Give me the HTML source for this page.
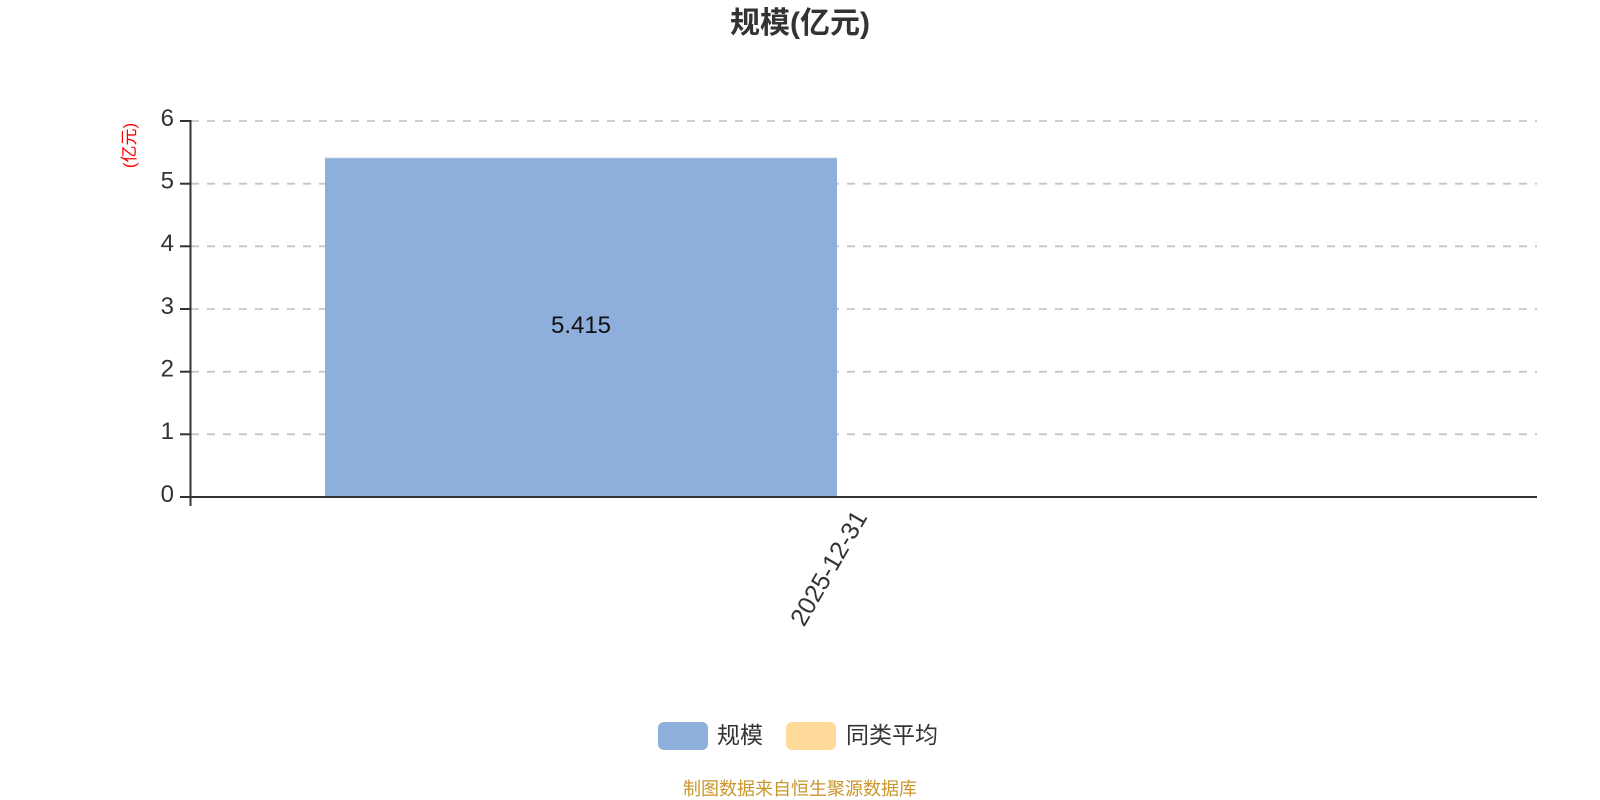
<!DOCTYPE html>
<html>
<head>
<meta charset="utf-8">
<style>
  html, body { margin: 0; padding: 0; background: #ffffff; }
  body { width: 1600px; height: 800px; overflow: hidden; }
  svg { display: block; }
  text { font-family: "Liberation Sans", "Noto Sans CJK SC", sans-serif; }
</style>
</head>
<body>
<svg width="1600" height="800" viewBox="0 0 1600 800" xmlns="http://www.w3.org/2000/svg">
  <!-- Title -->
  <text x="800" y="33" text-anchor="middle" font-size="30" font-weight="bold" fill="#333333">规模(亿元)</text>

  <!-- Y axis name -->
  <text x="0" y="0" transform="translate(135,145.5) rotate(-90)" text-anchor="middle" font-size="17" fill="#ff0000">(亿元)</text>

  <!-- Grid lines -->
  <g stroke="#c8c8c8" stroke-width="1.8" stroke-dasharray="8 8" fill="none">
    <line x1="191" y1="121" x2="1537" y2="121"/>
    <line x1="191" y1="183.7" x2="1537" y2="183.7"/>
    <line x1="191" y1="246.3" x2="1537" y2="246.3"/>
    <line x1="191" y1="309" x2="1537" y2="309"/>
    <line x1="191" y1="371.7" x2="1537" y2="371.7"/>
    <line x1="191" y1="434.3" x2="1537" y2="434.3"/>
  </g>

  <!-- Bar -->
  <rect x="325" y="157.7" width="512" height="339.3" fill="#8eaedb"/>
  <line x1="325" y1="157.7" x2="837" y2="157.7" stroke="#dfe7f3" stroke-width="1"/>
  <text x="581" y="333" text-anchor="middle" font-size="24" fill="#111111">5.415</text>

  <!-- Axes -->
  <g stroke="#333333" stroke-width="2" fill="none">
    <line x1="190.5" y1="120" x2="190.5" y2="506"/>
    <line x1="190" y1="497" x2="1537" y2="497"/>
    <line x1="180" y1="121" x2="190" y2="121"/>
    <line x1="180" y1="183.7" x2="190" y2="183.7"/>
    <line x1="180" y1="246.3" x2="190" y2="246.3"/>
    <line x1="180" y1="309" x2="190" y2="309"/>
    <line x1="180" y1="371.7" x2="190" y2="371.7"/>
    <line x1="180" y1="434.3" x2="190" y2="434.3"/>
    <line x1="180" y1="497" x2="190" y2="497"/>
  </g>

  <!-- Y tick labels -->
  <g font-size="24" fill="#333333" text-anchor="end">
    <text x="174" y="126">6</text>
    <text x="174" y="188.5">5</text>
    <text x="174" y="251">4</text>
    <text x="174" y="314">3</text>
    <text x="174" y="376.5">2</text>
    <text x="174" y="439">1</text>
    <text x="174" y="502">0</text>
  </g>

  <!-- X tick label -->
  <text x="0" y="0" transform="translate(861,513) rotate(-60)" text-anchor="end" dominant-baseline="central" font-size="25" fill="#333333">2025-12-31</text>

  <!-- Legend -->
  <rect x="658" y="722" width="50" height="28" rx="6" ry="6" fill="#8eaedb"/>
  <text x="717" y="743" font-size="23" fill="#333333">规模</text>
  <rect x="786" y="722" width="50" height="28" rx="6" ry="6" fill="#ffd99a"/>
  <text x="846" y="743" font-size="23" fill="#333333">同类平均</text>

  <!-- Footer -->
  <text x="800" y="795" text-anchor="middle" font-size="18" fill="#c9962b">制图数据来自恒生聚源数据库</text>
</svg>
</body>
</html>
